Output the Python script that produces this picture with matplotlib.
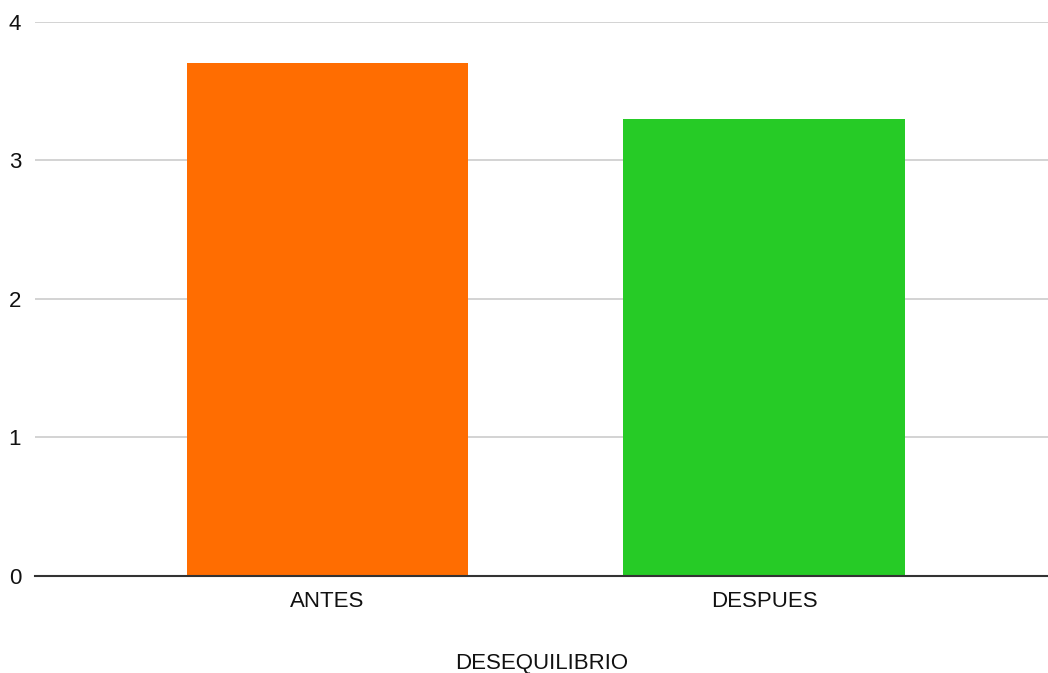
import matplotlib
matplotlib.use("Agg")
import matplotlib.pyplot as plt

categories = ["ANTES", "DESPUES"]
values = [3.7, 3.3]
colors = ["#FF6D01", "#26CB26"]
yticks = [0, 1, 2, 3, 4]

plt.rcParams['font.family'] = ['Liberation Sans', 'DejaVu Sans']

fig = plt.figure(figsize=(10.48, 6.73), dpi=100)
ax = fig.add_axes([35 / 1048, 1 - 576 / 673, 1 - 35 / 1048, (576 - 21.5) / 673])

x = range(len(categories))
ax.bar(x, values, width=0.645, color=colors, zorder=3)

ax.set_xlim(-0.67, 1.65)
ax.set_ylim(0, 4)
ax.set_yticks(yticks)
ax.set_xticks(list(x))
ax.set_xticklabels(categories)
ax.grid(axis='y', color='#cccccc', linewidth=1.2, zorder=0)
ax.set_axisbelow(True)

for s in ['top', 'right', 'left']:
    ax.spines[s].set_visible(False)
ax.spines['bottom'].set_color('#333333')
ax.spines['bottom'].set_linewidth(1.5)
ax.spines['bottom'].set_zorder(4)

ax.tick_params(axis='both', length=0, labelsize=16, colors='#111111')
ax.tick_params(axis='y', pad=10)
ax.tick_params(axis='x', pad=11)
ax.set_xlabel("DESEQUILIBRIO", fontsize=16, color='#111111', labelpad=29)

fig.savefig("out.png", dpi=100, facecolor='white')
